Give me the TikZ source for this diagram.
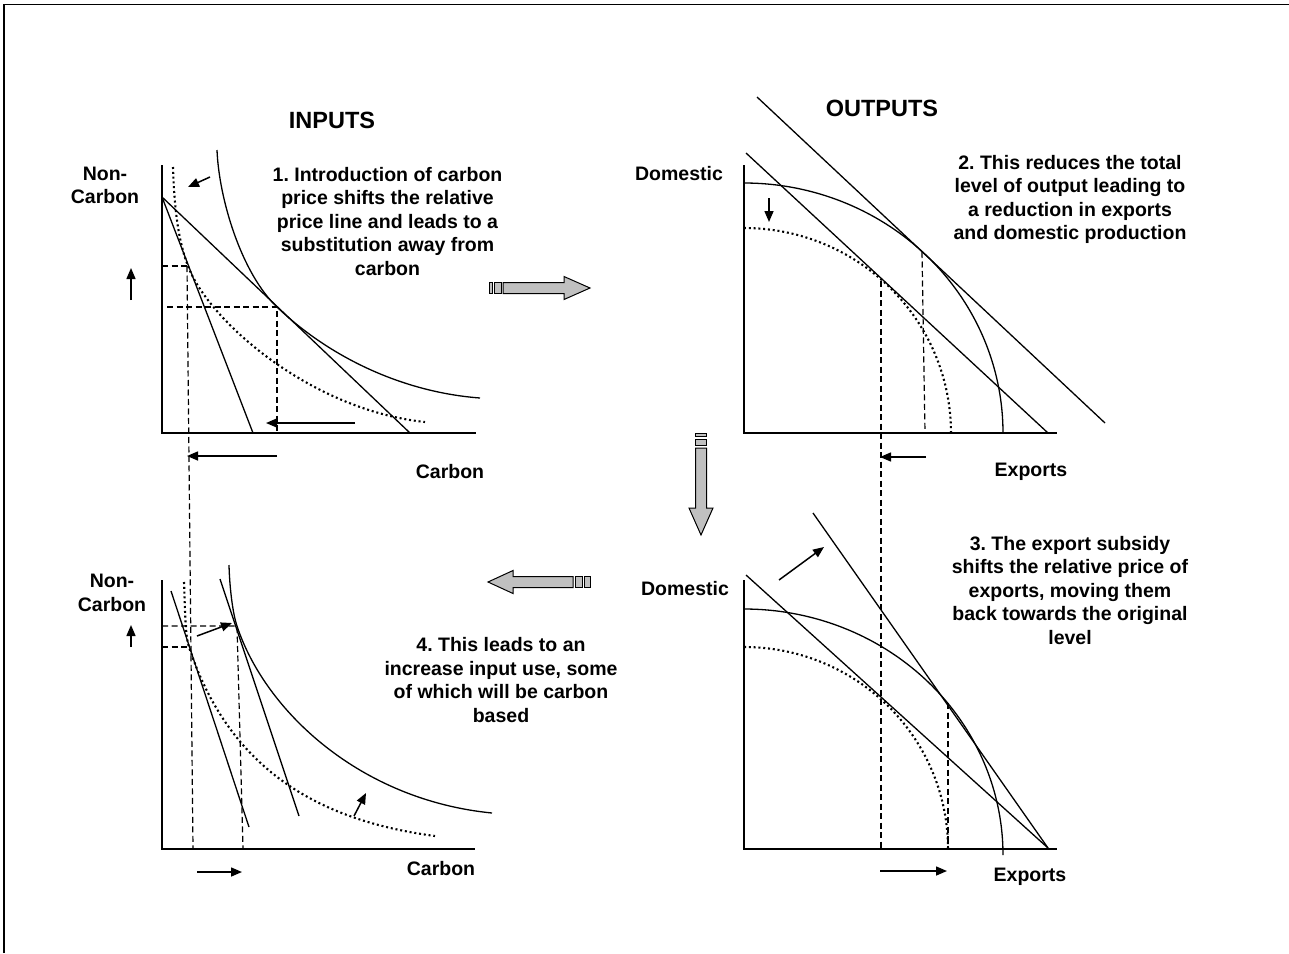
\documentclass[tikz,border=0pt]{standalone}
\usepackage{fontspec}
\setmainfont{Liberation Sans}
\usetikzlibrary{arrows.meta}
\definecolor{arrowgray}{HTML}{C0C0C0}
\frenchspacing
\begin{document}
\begin{tikzpicture}[x=1pt,y=-1pt,
  axis/.style={line width=2pt},
  curve/.style={line width=1.3pt},
  dotcurve/.style={line width=2.1pt, dash pattern=on 2pt off 2.8pt},
  guide/.style={line width=1.2pt, dash pattern=on 6pt off 3.5pt},
  shiftarrow/.style={line width=1.5pt,-{Triangle[length=11pt,width=9pt]}},
  lbl/.style={font=\fontsize{19.5}{23.4}\selectfont\bfseries\frenchspacing, align=center, anchor=base, inner sep=0pt},
  headlbl/.style={font=\fontsize{23.5}{28}\selectfont\bfseries, anchor=base, inner sep=0pt},
  blockarrow/.style={draw=black, line width=1pt, fill=arrowgray}]

\useasboundingbox (0,0) rectangle (1289,953);
\draw[line width=1.5pt] (4,953) -- (4,4.5) -- (1289,4.5);

% headings
\node[headlbl] (inputs) at (332,128) {INPUTS};
\node[headlbl] (outputs) at (882,116.7) {OUTPUTS};

% ---------- Panel 1 (inputs, top) ----------
\draw[axis] (162,165) -- (162,433) -- (476,433);
\draw[curve] (217,150) .. controls (219,200) and (242,274) .. (277,307) .. controls (327,355) and (400,392) .. (480,398);
\draw[dotcurve] (173,167) .. controls (174,200) and (177,238) .. (188,266) .. controls (208,320) and (310,410) .. (425,422);
\draw[curve] (162,197) -- (253,433);
\draw[curve] (162,197) -- (410,433);
\draw[guide] (162,266) -- (188,266);
\draw[guide] (167,307) -- (277,307) -- (277,433);
\draw[guide] (187,266) -- (193,849);
\draw[shiftarrow] (210,177) -- (188,187);
\draw[shiftarrow] (131,300) -- (131,268);
\draw[shiftarrow] (355,423) -- (266,423);
\draw[shiftarrow] (277,456) -- (187,456);
\node[lbl] (nc1) at (105,203.6) {Non-\\Carbon};
\node[lbl] (c1) at (450,478) {Carbon};
\node[lbl] (t1) at (387.5,275) {1. Introduction of carbon\\price shifts the relative\\price line and leads to a\\substitution away from\\carbon};

% ---------- Panel 2 (outputs, top) ----------
\draw[axis] (744,165) -- (744,433) -- (1057,433);
\draw[curve] plot[domain=0:90,samples=90] ({744+259*cos(\x)},{433-250*sin(\x)});
\draw[dotcurve] plot[domain=0:90,samples=90] ({744+207*cos(\x)},{433-205*sin(\x)});
\draw[curve] (757,97) -- (1105,423);
\draw[curve] (746,153) -- (1048,433);
\draw[guide] (922,252) -- (925,433);
\draw[guide] (881,281) -- (881,849);
\draw[shiftarrow] (769,198) -- (769,222);
\draw[shiftarrow] (926,457) -- (880,457);
\node[lbl] (d2) at (679,180) {Domestic};
\node[lbl] (e2) at (1031,476) {Exports};
\node[lbl] (t2) at (1070,239.5) {2. This reduces the total\\level of output leading to\\a reduction in exports\\and domestic production};

% ---------- Panel 3 (outputs, bottom) ----------
\draw[axis] (744,580) -- (744,849) -- (1057,849);
\draw[curve] plot[domain=0:90,samples=90] ({744+259*cos(\x)},{855-246*sin(\x)});
\draw[dotcurve] plot[domain=0:90,samples=90] ({744+204*cos(\x)},{849-202*sin(\x)});
\draw[curve] (746,575) -- (1048,848);
\draw[curve] (813,513) -- (1048,848);
\draw[guide] (948,703) -- (948,849);
\draw[shiftarrow] (779,580) -- (824,547);
\draw[shiftarrow] (880,871) -- (947,871);
\node[lbl] (d3) at (685,595) {Domestic};
\node[lbl] (e3) at (1030,881.7) {Exports};
\node[lbl] (t3) at (1070,644) {3. The export subsidy\\shifts the relative price of\\exports, moving them\\back towards the original\\level};

% ---------- Panel 4 (inputs, bottom) ----------
\draw[axis] (162,580) -- (162,849) -- (475,849);
\draw[curve] (229,565) .. controls (229.5,585) and (232.3,612) .. (237,626) .. controls (265,711) and (360,800) .. (492,813);
\draw[dotcurve] (184,582) .. controls (185,605) and (185,636) .. (189,647) .. controls (232,778) and (330,822) .. (435,836);
\draw[curve] (171,591) -- (249,827);
\draw[curve] (220,579) -- (299,816);
\draw[guide] (162,626) -- (237,626) -- (243,849);
\draw[guide] (162,647) -- (190,647);
\draw[shiftarrow] (197,636) -- (232,623);
\draw[shiftarrow] (354,816) -- (366,793);
\draw[shiftarrow] (197,872) -- (242,872);
\draw[shiftarrow] (131,647) -- (131,625);
\node[lbl] (nc4) at (112,611) {Non-\\Carbon};
\node[lbl] (c4) at (441,875) {Carbon};
\node[lbl] (t4) at (501,722) {4. This leads to an\\increase input use, some\\of which will be carbon\\based};

% ---------- block arrows ----------
\draw[blockarrow] (503,282.5) -- (564,282.5) -- (564,276.5) -- (590,288) -- (564,299.5) -- (564,293.5) -- (503,293.5) -- cycle;
\draw[blockarrow] (494.5,282.5) rectangle (501,293.5);
\draw[blockarrow] (489,282.5) rectangle (492.3,293.5);

\draw[blockarrow] (695.5,448) -- (695.5,508) -- (689,508) -- (701,535) -- (713,508) -- (706.5,508) -- (706.5,448) -- cycle;
\draw[blockarrow] (695.5,439) rectangle (706.5,445.7);
\draw[blockarrow] (695.5,433.3) rectangle (706.5,436.7);

\draw[blockarrow] (573,576.5) -- (513,576.5) -- (513,570.5) -- (488,582) -- (513,593.5) -- (513,587.5) -- (573,587.5) -- cycle;
\draw[blockarrow] (575.5,576.5) rectangle (582.5,587.5);
\draw[blockarrow] (584.5,576.5) rectangle (590,587.5);
\end{tikzpicture}
\end{document}
